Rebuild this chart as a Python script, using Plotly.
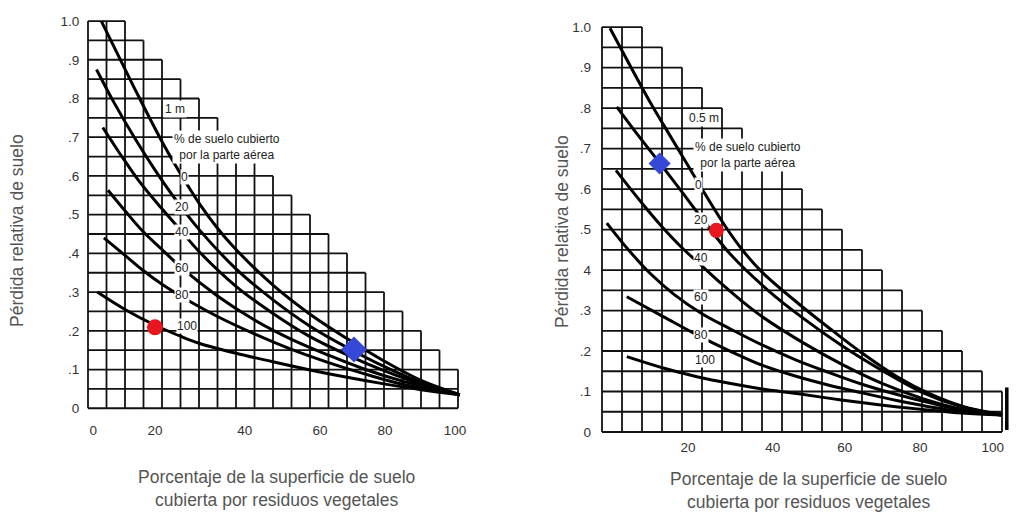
import plotly.graph_objects as go

# ---------------- data ----------------
# staircase grid: right edge (% cover) of each 0.05-high row, from top row (1.0-0.95) down
STAIR = [10, 15, 20, 25, 30, 35, 40, 45, 50, 55, 60, 65, 70, 75, 80, 85, 90, 95, 100, 100]

CURVE_NAMES = ["0", "20", "40", "60", "80", "100"]

# left panel: 1 m fall height
L_X0 = [3.6, 8.5, 13.7, 20.5, 26, 30, 35, 40, 50, 60, 70, 80, 90, 100.5]
L_Y0 = [1.0, 0.905, 0.805, 0.68, 0.59, 0.53, 0.465, 0.41, 0.318, 0.243, 0.18, 0.122, 0.072, 0.035]
L_X20 = [2.3, 7, 12.5, 18, 23, 30, 40, 50, 60, 70, 80, 90, 100.5]
L_Y20 = [0.875, 0.79, 0.70, 0.617, 0.548, 0.462, 0.36, 0.28, 0.212, 0.157, 0.108, 0.066, 0.035]
L_X40 = [4, 8.6, 13.7, 20, 25, 30, 40, 50, 60, 70, 80, 90, 100.5]
L_Y40 = [0.725, 0.658, 0.588, 0.515, 0.46, 0.405, 0.315, 0.245, 0.185, 0.138, 0.097, 0.062, 0.035]
L_X60 = [5.4, 10, 15, 20, 25, 35, 45, 55, 65, 75, 85, 100.5]
L_Y60 = [0.563, 0.51, 0.455, 0.41, 0.365, 0.29, 0.228, 0.178, 0.137, 0.1, 0.07, 0.035]
L_X80 = [4.3, 10, 15, 20, 25, 35, 45, 55, 65, 75, 85, 100.5]
L_Y80 = [0.44, 0.395, 0.355, 0.32, 0.29, 0.237, 0.192, 0.152, 0.118, 0.088, 0.062, 0.035]
L_X100 = [2.5, 10, 18, 25, 30, 40, 50, 60, 70, 80, 90, 100.5]
L_Y100 = [0.30, 0.255, 0.215, 0.186, 0.168, 0.142, 0.12, 0.099, 0.08, 0.063, 0.048, 0.035]

# right panel: 0.5 m fall height
R_X0 = [2, 7, 12, 17, 21, 24.4, 30.7, 35.3, 40, 49, 57, 65, 74, 82, 90, 100]
R_Y0 = [0.997, 0.905, 0.815, 0.732, 0.666, 0.61, 0.51, 0.447, 0.395, 0.318, 0.255, 0.195, 0.135, 0.094, 0.064, 0.043]
R_X20 = [3.7, 9, 14.4, 19.6, 24.8, 32, 41.5, 50, 60, 70, 80, 90, 100]
R_Y20 = [0.803, 0.733, 0.665, 0.598, 0.53, 0.44, 0.35, 0.283, 0.213, 0.152, 0.098, 0.062, 0.043]
R_X40 = [3.5, 10, 15, 20, 25, 30, 35, 40, 50, 60, 70, 80, 90, 100]
R_Y40 = [0.646, 0.565, 0.507, 0.455, 0.41, 0.365, 0.323, 0.285, 0.222, 0.167, 0.12, 0.083, 0.056, 0.042]
R_X60 = [1.2, 6.6, 12, 18, 25, 32, 40, 48.7, 57, 65, 74, 82, 90, 100]
R_Y60 = [0.516, 0.45, 0.392, 0.34, 0.292, 0.255, 0.215, 0.177, 0.146, 0.118, 0.092, 0.072, 0.054, 0.042]
R_X80 = [6.2, 15.3, 23.7, 32, 40, 48.7, 57, 65.3, 74, 82, 90, 100]
R_Y80 = [0.334, 0.285, 0.24, 0.2, 0.165, 0.137, 0.115, 0.096, 0.077, 0.062, 0.05, 0.042]
R_X100 = [6.2, 15.3, 24, 32, 40, 48.7, 57, 65.3, 74, 82, 90, 100]
R_Y100 = [0.186, 0.158, 0.136, 0.12, 0.106, 0.095, 0.083, 0.072, 0.062, 0.054, 0.047, 0.042]

# highlighted points
L_RED = (18.1, 0.209)
L_BLUE = (71.9, 0.152)
R_RED = (28.6, 0.498)
R_BLUE = (14.4, 0.663)

# tick labels
L_YTICK_TEXT = ["1.0", ".9", ".8", ".7", ".6", ".5", ".4", ".3", ".2", ".1", "0"]
R_YTICK_TEXT = ["1.0", ".9", ".8", ".7", ".6", ".5", "4", ".3", ".2", ".1", "0"]
YTICK_VALS = [1.0, 0.9, 0.8, 0.7, 0.6, 0.5, 0.4, 0.3, 0.2, 0.1, 0.0]
L_XTICK_TEXT = ["0", "20", "40", "60", "80", "100"]
R_XTICK_TEXT = ["20", "40", "60", "80", "100"]

HEIGHT_LABEL = {"L": "1 m", "R": "0.5 m"}
CANOPY_TEXT = "% de suelo cubierto<br>por la parte aérea"
Y_TITLE = "Pérdida relativa de suelo"
X_TITLE = "Porcentaje de la superficie de suelo<br>cubierta por residuos vegetales"

# ---------------- layout / positions (not data) ----------------
L_XTICK_POS = [1.4, 18.1, 42.4, 62.7, 80.3, 99.2]
R_XTICK_POS = [21.5, 42.7, 60.7, 79.5, 97.7]
L_LABEL_POS = [(26.2, 0.598), (25.3, 0.52), (25.3, 0.456), (25.5, 0.361), (25.3, 0.292), (26.7, 0.212)]
R_LABEL_POS = [(24.2, 0.61), (24.8, 0.523), (24.8, 0.43), (24.7, 0.333), (24.7, 0.24), (25.7, 0.178)]

FONT = "Liberation Sans, Arial, sans-serif"
W, H = 1017, 514
OFF = 8  # page body margin offset


def xp(px):
    return (px - OFF) / W


def yp(py):
    return 1 - (py - OFF) / H


fig = go.Figure()


def grid_xy():
    xs, ys = [], []
    n = len(STAIR)
    for j in range(n + 1):
        y = 1.0 - 0.05 * j
        xs += [0, STAIR[min(j, n - 1)], None]
        ys += [y, y, None]
    for i in range(21):
        x = 5 * i
        top_row = max(0, i - 2)
        xs += [x, x, None]
        ys += [0, 1.0 - 0.05 * top_row, None]
    return xs, ys


gx, gy = grid_xy()
for xa, ya in (("x", "y"), ("x2", "y2")):
    fig.add_trace(go.Scatter(x=gx, y=gy, mode="lines", xaxis=xa, yaxis=ya,
                             line=dict(color="#111", width=1.8), hoverinfo="skip",
                             showlegend=False))

left_curves = [(L_X0, L_Y0), (L_X20, L_Y20), (L_X40, L_Y40), (L_X60, L_Y60), (L_X80, L_Y80), (L_X100, L_Y100)]
right_curves = [(R_X0, R_Y0), (R_X20, R_Y20), (R_X40, R_Y40), (R_X60, R_Y60), (R_X80, R_Y80), (R_X100, R_Y100)]

for name, (cx, cy) in zip(CURVE_NAMES, left_curves):
    fig.add_trace(go.Scatter(x=cx, y=cy, mode="lines", name=name, xaxis="x", yaxis="y",
                             line=dict(color="#000", width=3, shape="spline", smoothing=1.0),
                             showlegend=False))
for name, (cx, cy) in zip(CURVE_NAMES, right_curves):
    fig.add_trace(go.Scatter(x=cx, y=cy, mode="lines", name=name, xaxis="x2", yaxis="y2",
                             line=dict(color="#000", width=3, shape="spline", smoothing=1.0),
                             showlegend=False))

# thick end bar on right panel
fig.add_trace(go.Scatter(x=[101.2, 101.2], y=[0.005, 0.11], mode="lines", xaxis="x2", yaxis="y2",
                         line=dict(color="#000", width=3.5), hoverinfo="skip", showlegend=False))

RED = "#e8161e"
BLUE = "#3548d8"
fig.add_trace(go.Scatter(x=[L_RED[0]], y=[L_RED[1]], mode="markers", xaxis="x", yaxis="y",
                         marker=dict(color=RED, size=16, symbol="circle"), showlegend=False))
fig.add_trace(go.Scatter(x=[L_BLUE[0]], y=[L_BLUE[1]], mode="markers", xaxis="x", yaxis="y",
                         marker=dict(color=BLUE, size=20, symbol="diamond"), showlegend=False))
fig.add_trace(go.Scatter(x=[R_RED[0]], y=[R_RED[1]], mode="markers", xaxis="x2", yaxis="y2",
                         marker=dict(color=RED, size=15, symbol="circle"), showlegend=False))
fig.add_trace(go.Scatter(x=[R_BLUE[0]], y=[R_BLUE[1]], mode="markers", xaxis="x2", yaxis="y2",
                         marker=dict(color=BLUE, size=17, symbol="diamond"), showlegend=False))

LBL = dict(size=12, color="#222", family=FONT)
ann = []
for (px, py), t in zip(L_LABEL_POS, CURVE_NAMES):
    ann.append(dict(x=px, y=py, xref="x", yref="y", text=t, showarrow=False, bgcolor="white",
                    borderpad=0, font=LBL))
for (px, py), t in zip(R_LABEL_POS, CURVE_NAMES):
    ann.append(dict(x=px, y=py, xref="x2", yref="y2", text=t, showarrow=False, bgcolor="white",
                    borderpad=0, font=LBL))
ann.append(dict(x=23.5, y=0.774, xref="x", yref="y", text=HEIGHT_LABEL["L"], showarrow=False,
                bgcolor="white", borderpad=1, font=LBL))
ann.append(dict(x=25.5, y=0.775, xref="x2", yref="y2", text=HEIGHT_LABEL["R"], showarrow=False,
                bgcolor="white", borderpad=1, font=LBL))
ann.append(dict(x=37.5, y=0.674, xref="x", yref="y", text=CANOPY_TEXT, showarrow=False,
                bgcolor="white", borderpad=1, font=dict(size=12, color="#222", family=FONT)))
ann.append(dict(x=36.5, y=0.685, xref="x2", yref="y2", text=CANOPY_TEXT, showarrow=False,
                bgcolor="white", borderpad=1, font=dict(size=12, color="#222", family=FONT)))

# axis titles
TITLE_FONT = dict(size=17.5, color="#555", family=FONT)
CENTER = dict(xanchor="center", yanchor="middle", showarrow=False, xref="paper", yref="paper")
ann.append(dict(x=xp(17), y=yp(231), text=Y_TITLE, textangle=-90, font=TITLE_FONT, **CENTER))
ann.append(dict(x=xp(562), y=yp(232), text=Y_TITLE, textangle=-90, font=TITLE_FONT, **CENTER))
ann.append(dict(x=xp(276), y=yp(488), text=X_TITLE, font=TITLE_FONT, **CENTER))
ann.append(dict(x=xp(808), y=yp(490), text=X_TITLE, font=TITLE_FONT, **CENTER))

TICK_FONT = dict(size=13.5, color="#333", family=FONT)
common = dict(showgrid=False, zeroline=False, showline=False, ticks="", automargin=False,
              tickfont=TICK_FONT)

fig.update_layout(
    width=W, height=H, margin=dict(l=0, r=0, t=0, b=0, autoexpand=False),
    paper_bgcolor="white", plot_bgcolor="white", showlegend=False,
    annotations=ann,
    xaxis=dict(domain=[xp(84.3), xp(465.4)], range=[-1, 102], tickvals=L_XTICK_POS,
               ticktext=L_XTICK_TEXT, ticklabelstandoff=4, anchor="y", **common),
    yaxis=dict(domain=[yp(416.0), yp(13.3)], range=[-0.02, 1.02], tickvals=YTICK_VALS,
               ticktext=L_YTICK_TEXT, ticklabelstandoff=4, anchor="x", **common),
    xaxis2=dict(domain=[xp(598.0), xp(1014.0)], range=[-1, 103], tickvals=R_XTICK_POS,
                ticktext=R_XTICK_TEXT, ticklabelstandoff=-3, anchor="y2", **common),
    yaxis2=dict(domain=[yp(440.1), yp(19.0)], range=[-0.02, 1.02], tickvals=YTICK_VALS,
                ticktext=R_YTICK_TEXT, ticklabelstandoff=6, anchor="x2", **common),
)

fig.write_html("out.html")
